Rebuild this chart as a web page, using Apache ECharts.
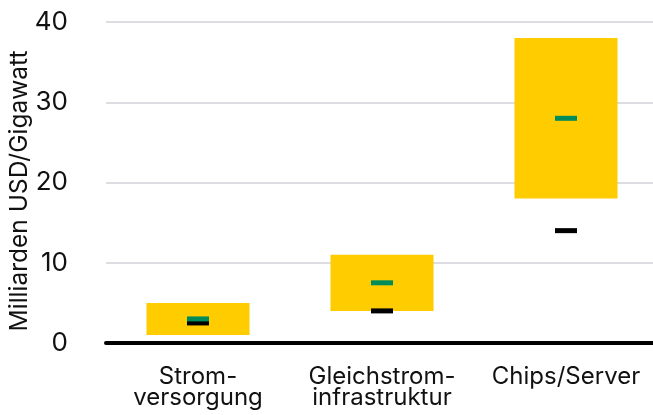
<!DOCTYPE html>
<html>
<head>
<meta charset="utf-8">
<script src="https://cdn.jsdelivr.net/npm/echarts@6/dist/echarts.min.js"></script>
<style>
  html, body { margin: 0; padding: 0; background: #fff; }
  #chart { width: 653px; height: 415px; }
</style>
</head>
<body>
<div id="chart"></div>
<script>
// Cost ranges per gigawatt of data-centre capacity
const categories = ['Strom-\nversorgung', 'Gleichstrom-\ninfrastruktur', 'Chips/Server'];
const rangeLow = [1, 4, 18];
const rangeHigh = [5, 11, 38];
const greenMarker = [3, 7.5, 28];
const blackMarker = [2.5, 4, 14];
const yTicks = [0, 10, 20, 30, 40];
const yTitle = 'Milliarden USD/Gigawatt';

const FONT = 'Inter, "Noto Sans", sans-serif';
const chart = echarts.init(document.getElementById('chart'));

chart.setOption({
  animation: false,
  grid: { left: 106, top: 22, width: 552, height: 321, outerBoundsMode: 'none' },
  graphic: [{
    type: 'text',
    x: 20,
    y: 191,
    rotation: Math.PI / 2,
    style: {
      text: yTitle,
      fill: '#111',
      font: '24.5px ' + FONT,
      align: 'center',
      verticalAlign: 'middle'
    }
  }],
  xAxis: {
    type: 'category',
    data: categories,
    axisTick: { show: false },
    axisLine: { show: true, lineStyle: { color: '#000', width: 4 } },
    axisLabel: {
      interval: 0,
      hideOverlap: false,
      color: '#111', fontFamily: FONT, fontSize: 24, lineHeight: 21, margin: 23
    }
  },
  yAxis: {
    type: 'value',
    min: yTicks[0],
    max: yTicks[yTicks.length - 1],
    interval: 10,
    axisLine: { show: false },
    axisTick: { show: false },
    axisLabel: { color: '#111', fontFamily: FONT, fontSize: 26, margin: 38 },
    splitLine: { lineStyle: { color: '#dcdce2', width: 2 } }
  },
  series: [
    {
      type: 'bar',
      stack: 'range',
      data: rangeLow,
      barWidth: '56%',
      itemStyle: { color: 'transparent' },
      silent: true
    },
    {
      type: 'bar',
      stack: 'range',
      data: rangeHigh.map((h, i) => h - rangeLow[i]),
      barWidth: '56%',
      itemStyle: { color: '#ffcc00' }
    },
    {
      type: 'scatter',
      data: blackMarker,
      symbol: 'rect',
      symbolSize: [22, 5],
      itemStyle: { color: '#000', opacity: 1 },
      z: 5
    },
    {
      type: 'scatter',
      data: greenMarker,
      symbol: 'rect',
      symbolSize: [22, 5],
      itemStyle: { color: '#008c5a', opacity: 1 },
      z: 6
    }
  ]
});
</script>
</body>
</html>
